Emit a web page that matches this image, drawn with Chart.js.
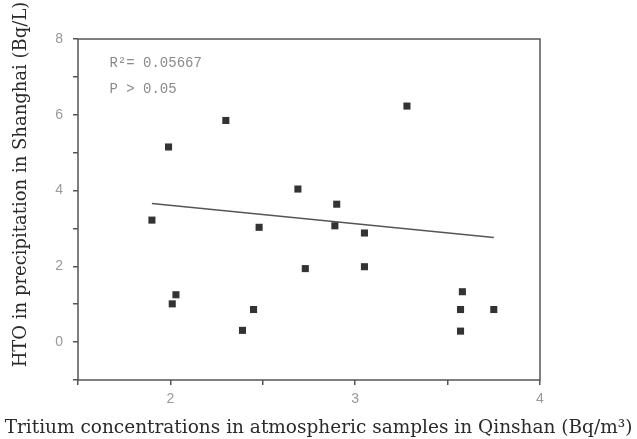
<!DOCTYPE html>
<html>
<head>
<meta charset="utf-8">
<script src="https://cdn.jsdelivr.net/npm/chart.js@4"></script>
<style>
  html, body { margin: 0; padding: 0; background: #fff; }
  #wrap { width: 637px; height: 439px; }
</style>
</head>
<body>
<div id="wrap"><canvas id="myChart"></canvas></div>
<script>
// data
const tritiumQinshan = [1.90, 1.99, 2.01, 2.03, 2.30, 2.39, 2.45, 2.48, 2.69, 2.73, 2.90, 2.89, 3.05, 3.05, 3.28, 3.58, 3.57, 3.57, 3.75]
const htoShanghai = [3.22, 5.15, 1.01, 1.25, 5.85, 0.31, 0.86, 3.03, 4.04, 1.94, 3.64, 3.07, 2.88, 1.99, 6.23, 1.33, 0.86, 0.29, 0.86]
const fitX = [1.90, 3.75]
const fitY = [3.66, 2.76]
const statsText = ['R\u00b2= 0.05667', 'P > 0.05']
const statsPos = [[1.67, 7.36], [1.67, 6.68]]
const xTitle = 'Tritium concentrations in atmospheric samples in Qinshan (Bq/m\u00b3)'
const yTitle = 'HTO in precipitation in Shanghai (Bq/L)'

const points = tritiumQinshan.map((x, i) => ({ x: x, y: htoShanghai[i] }))
const fitLine = fitX.map((x, i) => ({ x: x, y: fitY[i] }))

const ctx = document.getElementById('myChart')

// box round the plot, the R²/P note and the two axis titles
const frame = {
	id: 'frame',
	afterDraw(chart) {
		const c = chart.ctx
		const a = chart.chartArea
		c.save()
		c.strokeStyle = '#555'
		c.lineWidth = 1.5
		c.strokeRect(a.left, a.top, a.right - a.left, a.bottom - a.top)

		c.fillStyle = '#8a8a8a'
		c.font = '14px "Liberation Mono"'
		c.textBaseline = 'middle'
		statsText.forEach((t, i) => {
			c.fillText(t, chart.scales.x.getPixelForValue(statsPos[i][0]), chart.scales.y.getPixelForValue(statsPos[i][1]))
		})

		c.fillStyle = '#2a2a2a'
		c.font = '18.5px "DejaVu Serif"'
		c.textAlign = 'center'
		c.textBaseline = 'alphabetic'
		c.fillText(xTitle, chart.width / 2, chart.height - 6)

		c.font = '18px "DejaVu Serif"'
		c.translate(21, (a.top + a.bottom) / 2 - 25)
		c.rotate(-Math.PI / 2)
		c.textBaseline = 'middle'
		c.fillText(yTitle, 0, 0)
		c.restore()
	},
}

new Chart(ctx, {
	type: 'scatter',
	data: {
		datasets: [
			{
				data: points,
				pointStyle: 'rect',
				pointRadius: 5,
				backgroundColor: '#333',
				borderColor: '#333',
				borderWidth: 0,
			},
			{
				data: fitLine,
				showLine: true,
				pointRadius: 0,
				borderColor: '#555',
				borderWidth: 1.5,
			},
		],
	},
	options: {
		responsive: true,
		maintainAspectRatio: false,
		animation: false,
		layout: {
			padding: { top: 39, right: 97, left: 0, bottom: 0 },
		},
		plugins: {
			legend: { display: false },
			tooltip: { enabled: false },
		},
		scales: {
			x: {
				type: 'linear',
				min: 1.5,
				max: 4,
				afterFit(s) { s.height = 59 },
				border: { display: false },
				grid: {
					drawOnChartArea: false,
					tickLength: 5,
					color: '#555',
					lineWidth: 1.5,
				},
				ticks: {
					stepSize: 0.5,
					padding: 6,
					color: '#999',
					font: { family: 'Liberation Sans', size: 14 },
					callback: (v) => (Number.isInteger(v) ? v : ''),
				},
			},
			y: {
				min: -1,
				max: 8,
				afterFit(s) { s.width = 78 },
				border: { display: false },
				grid: {
					drawOnChartArea: false,
					tickLength: 5,
					color: '#555',
					lineWidth: 1.5,
				},
				ticks: {
					stepSize: 1,
					padding: 10,
					color: '#999',
					font: { family: 'Liberation Sans', size: 14 },
					callback: (v) => (v >= 0 && v % 2 === 0 ? v : ''),
				},
			},
		},
	},
	plugins: [frame],
})
</script>
</body>
</html>
